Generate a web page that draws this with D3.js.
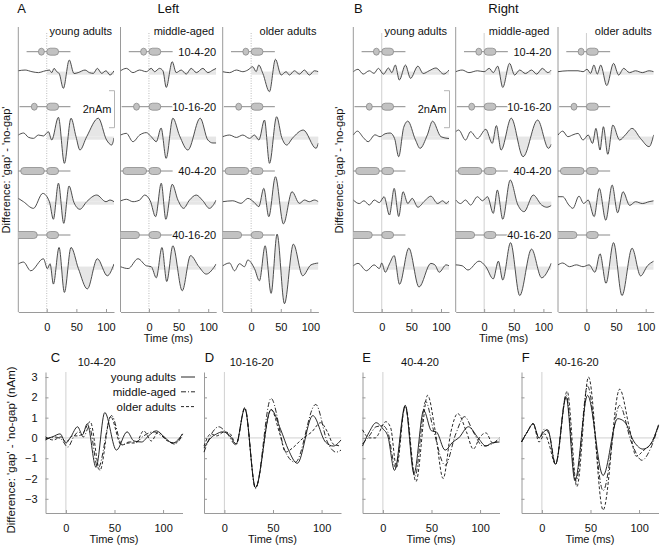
<!DOCTYPE html>
<html><head><meta charset="utf-8">
<script src="https://cdn.jsdelivr.net/npm/d3@7"></script>
<style>
body{margin:0;background:#fff}
svg text{font-family:"Liberation Sans",Arial,Helvetica,sans-serif;fill:#111}
</style>
</head><body>
<svg id="c" width="661" height="547"></svg>
<script>
// ---------- categories / labels ----------
const conditions = ["10-4-20","10-16-20","40-4-20","40-16-20"];
const groups = ["young adults","middle-aged","older adults"];
const leadDur = [10,10,40,40];
const gapDur = [4,16,4,16];
const trailDur = 20;
const topTicks = [0,50,100];
const bottomXTicks = [0,50,100];
const bottomYTicks = [-3,-2,-1,0,1,2,3];

// ---------- A: Left hemisphere, [time ms, difference nAm] per condition ----------
const leftYoung = [
 [[-48,0.05],[-36.5,0.09],[-25,0],[-14,-0.05],[-5.6,0.02],[4.5,0.09],[8.4,-0.05],[12.4,0.18],[16.9,0],[21,-0.1],[28,-0.9],[38,0.63],[46,-0.1],[53,-0.05],[64.6,0.09],[72,-0.05],[78.7,-0.09],[85.4,0.18],[92.7,-0.09],[100,0.05],[106.7,-0.18],[113.5,0.05]],
 [[-48,0.09],[-39,0.2],[-31,-0.03],[-22.5,-0.09],[-14,0.09],[-5.6,0.04],[2.8,0.27],[8.4,-0.18],[19.7,1.05],[29.8,-1.44],[41,1.0],[49.4,0],[56,-0.72],[67.4,0],[87,1.0],[101,-0.18],[109.6,-0.45],[113.5,-0.07]],
 [[-48,0.18],[-39.3,0],[-22.5,-0.36],[-6.7,0.45],[4.5,0],[11.2,-0.95],[19.7,1.0],[28.7,-1.17],[37.6,0.85],[46,-0.05],[56,-0.41],[67.4,0],[84.3,0.36],[100,0],[106.7,0.09],[113.5,0]],
 [[-48,0.15],[-39.3,0.25],[-27,-0.22],[-5.6,0.43],[1.1,-0.1],[5.6,0.16],[11.2,-0.94],[20.8,1.04],[29.8,-1.39],[41,1.04],[53.4,-0.1],[68.5,-1.2],[85.4,0.43],[102.2,-0.49],[113.5,0.15]]
];
const leftMiddle = [
 [[-48,0.05],[-38,0.18],[-27,-0.05],[-15.7,0.09],[-4.5,0],[3.9,0.18],[9.6,0],[17.9,0.18],[23.6,0.05],[29.2,-0.85],[39.3,0.54],[46,-0.05],[54.5,0.09],[62.9,-0.13],[71.3,0.18],[80,-0.05],[91,0.18],[99.4,-0.05],[108,0.09],[113.5,0.18]],
 [[-48,0.09],[-38,0.18],[-27,-0.27],[-15.7,0.09],[-4.5,0.22],[3.9,0],[12.4,-0.27],[20.5,0.47],[29,-1.17],[40.4,1.0],[51.7,0.05],[65.7,-0.72],[86.5,1.0],[99.4,-0.18],[108,-0.34],[113.5,-0.34]],
 [[-48,0.04],[-38,0.13],[-27,0],[-15.7,0.09],[-7.3,0.36],[2.2,0.05],[11.2,-0.81],[20.8,1.0],[28.5,-0.95],[39.3,0.94],[48.9,0.09],[58.4,-0.36],[68.5,0.09],[79.8,0.36],[91,0.05],[102,-0.36],[113.5,0.09]],
 [[-48,0],[-35,-0.1],[-18.5,0.43],[-4.5,0.05],[3.9,0],[12.4,-0.6],[22,1.04],[30,-0.8],[40.4,1.13],[56.2,-1.3],[70.2,0.6],[84.3,0],[96.6,-0.4],[113.5,0.15]]
];
const leftOlder = [
 [[-48,0],[-36.5,-0.05],[-25,0.09],[-14,0],[-5.6,0.09],[2.8,0.27],[8.4,0],[12.9,0.36],[19.7,-0.09],[30.9,-1.08],[41,0.67],[50.6,-0.18],[59,0],[64.6,-0.18],[73,0.05],[81.5,-0.13],[89.9,0.09],[98.3,-0.18],[106.7,0.05],[113.5,0]],
 [[-48,0],[-36.5,0.09],[-25,-0.04],[-14,0.09],[-2.8,-0.09],[5.6,0.09],[13,-0.18],[22.5,0.9],[31,-1.44],[43,1.08],[51.7,-0.05],[60,-0.45],[70,-0.07],[88,0.36],[109.5,-0.63],[113.5,-0.34]],
 [[-48,0],[-31,0.05],[-17,-0.09],[-5.6,0.18],[5.6,-0.05],[12.9,-0.27],[21.3,0.72],[29.8,-0.81],[41,1.35],[54.5,-1.2],[69,0.54],[81.5,-0.09],[90,0.09],[98.3,0],[106.7,0.09],[113.5,0]],
 [[-48,0.05],[-36.5,0.2],[-28,-0.22],[-19.7,0.16],[-11.2,0],[-5.6,0.36],[5.6,-0.1],[14,-0.76],[23.6,1.13],[33.7,-1.44],[43.8,1.76],[56.2,-2.0],[71.3,1.22],[87,-0.49],[101,0.1],[113.5,0.2]]
];

// ---------- B: Right hemisphere ----------
const rightYoung = [
 [[-48,0],[-40,0.13],[-31.4,-0.13],[-21,0.05],[-13,-0.09],[-5.7,0.18],[2.9,-0.13],[11.4,0.2],[17,-0.05],[22.9,0.36],[29.7,-0.45],[40,0.36],[48.6,-0.36],[61,0.3],[70,-0.1],[80,0.05],[91.4,0.2],[104.6,-0.13],[113.5,0.09]],
 [[-48,0.09],[-41,0.3],[-31,-0.05],[-23,-0.27],[-11.4,0.1],[-2.9,0],[5.7,0.16],[14.3,0.2],[21.7,-0.1],[28.6,-1.08],[37,0.5],[44,0.84],[57,-0.18],[64.6,-0.63],[77,0.1],[85.7,0.84],[100,0],[113.5,-0.1]],
 [[-48,0.09],[-38,-0.1],[-30,0.05],[-21,-0.18],[-12.6,0.09],[-4,-0.05],[4,0.27],[13,-0.72],[21,0.72],[28.6,-0.8],[36,0.54],[44,-0.1],[51.4,0.18],[61,-0.3],[72.6,0.05],[82.9,0.3],[94.3,-0.1],[102.9,0.05],[108.6,-0.1],[113.5,0.05]],
 [[-48,0.05],[-40,0.18],[-25.7,-0.22],[-13,0.1],[-4,-0.1],[0,0.2],[6,-0.3],[13,0.15],[21,0.6],[30,-0.95],[45.7,1.0],[62.9,-1.1],[82.9,0.18],[89.7,0.1],[97,-0.3],[108.6,0.1],[113.5,0.05]]
];
const rightMiddle = [
 [[-48,0],[-37,0.09],[-25.7,-0.05],[-11.4,0.05],[0,0],[8.6,0.18],[15.4,-0.05],[22.9,0.3],[31.4,-0.85],[42.9,0.45],[51.4,-0.18],[60,0.09],[69.7,-0.1],[80,0.09],[88.6,-0.13],[98.3,0.18],[107.4,-0.05],[113.5,0.09]],
 [[-48,0.27],[-43,0.36],[-31.4,-0.18],[-22.9,0.27],[-11.4,-0.1],[2.9,0.4],[13.7,-0.36],[20.6,0.6],[28.6,-0.72],[45.7,1.0],[65.7,-1.08],[90.3,0.9],[108.6,-0.63],[113.5,-0.4]],
 [[-48,0.09],[-40,-0.1],[-31.4,0.09],[-22.9,-0.18],[-11.4,0.27],[-2.9,0.05],[5.7,0.27],[15.4,-0.63],[22.3,0.63],[31.4,-0.95],[44,1.17],[57,-0.18],[67.4,-0.54],[82.9,0.36],[97,-0.18],[105.7,-0.3],[113.5,-0.2]],
 [[-48,0.1],[-37,0.05],[-27.4,-0.18],[-8.6,0.3],[2.9,0],[15.4,-0.66],[24,0.3],[31.4,-0.72],[44.6,1.3],[60,-1.56],[80,0.95],[97,-0.6],[113.5,0.2]]
];
const rightOlder = [
 [[-48,0],[-31.4,0.05],[-14.3,0.05],[-5.7,0],[1.1,0.13],[6.9,-0.09],[12.6,0.36],[18.3,-0.13],[24,0.36],[34.3,-0.75],[45.7,0.45],[54.3,-0.18],[62.9,0.18],[72.6,-0.05],[82.9,0.05],[94.3,-0.05],[105.7,0.05],[113.5,0]],
 [[-48,0.09],[-40,0.3],[-31.4,0],[-22.9,0.1],[-14.3,0.18],[-5.7,-0.18],[2.9,0.09],[10.3,-0.36],[16,0.45],[22.9,-0.72],[28.6,0.54],[36,-0.95],[44.6,0.63],[56,-0.18],[65.7,0.1],[77,0.45],[91.4,-0.1],[105.7,-0.54],[113.5,0.1]],
 [[-48,0.27],[-40,0.27],[-29.7,-0.18],[-22.9,-0.36],[-12.6,0.3],[-4.6,-0.1],[2.9,0.09],[13,-0.81],[21.7,0.72],[32.6,-1.0],[43.4,0.9],[52.6,-0.6],[61.7,0.54],[73,-0.2],[82.9,0],[94.3,-0.1],[105.7,0],[113.5,0.05]],
 [[-48,0.1],[-40,0.2],[-28.6,0],[-17,0.1],[-5.7,0],[4.6,0.1],[14.3,-0.3],[22.9,0.7],[33,-0.9],[45.7,1.3],[60,-1.56],[77,1.0],[91.4,-0.5],[103,0.05],[113.5,0.3]]
];

// ---------- C-F: group comparison per condition ----------
const cfYoung = [
 [[-21,-0.05],[-14,0.05],[-6,0.2],[0,-0.25],[5,0.05],[12,0.55],[17,0.15],[22,0.7],[31,-1.45],[40,1.25],[52,-0.6],[63,0.3],[70,-0.15],[78,-0.2],[85,0.1],[93,0.35],[100,0.1],[110,-0.25],[120,0.2]],
 [[-21,-0.5],[-14,0.0],[-8,0.2],[-2,0.3],[5,0.15],[12,-0.3],[21,1.45],[32,-2.45],[48,1.4],[58,0.4],[66,-0.6],[75,-1.25],[91,1.1],[104,-0.2],[112,-0.4],[120,-0.1]],
 [[-21,-0.4],[-14,0.3],[-7,0.75],[0,0.45],[5,0.1],[12,-1.6],[23,1.6],[32,-1.75],[42,1.35],[50,0.35],[55,0.3],[64,-0.6],[72,-0.2],[78,0.0],[88,0.55],[98,0.0],[106,-0.4],[112,-0.25],[120,-0.2]],
 [[-21,-0.2],[-15,0.3],[-9,0.7],[-3,0.0],[3,0.35],[6,0.4],[14,-1.3],[25,2.0],[34,-2.1],[47,2.1],[63,-1.85],[78,0.95],[85,0.8],[95,-0.2],[104,-0.55],[112,-0.3],[120,0.65]]
];
const cfMiddle = [
 [[-21,-0.1],[-12,0.05],[-5,-0.05],[2,-0.45],[8,0.05],[13,0.3],[18,0.05],[24,0.55],[33,-1.5],[47,1.1],[58,-0.35],[65,-0.2],[72,-0.2],[80,0.1],[90,0.3],[100,0.05],[112,-0.3],[120,0.15]],
 [[-21,-0.7],[-12,0.3],[-6,0.55],[3,0.2],[12,-0.35],[21,1.5],[32,-2.5],[48,1.95],[62,-0.6],[73,-1.2],[94,1.65],[106,-0.2],[115,-0.7],[120,-0.6]],
 [[-21,-0.3],[-14,0.1],[-7,0.55],[0,0.6],[5,0.3],[13,-1.45],[23,1.55],[33,-1.9],[44,1.8],[52,0.4],[64,-1.35],[75,0.2],[84,1.05],[93,0.3],[103,-0.4],[112,-0.3],[120,0.0]],
 [[-21,-0.2],[-15,0.3],[-9,0.7],[-3,0.0],[3,0.45],[8,0.1],[14,-1.3],[25,2.1],[35,-2.15],[47,2.55],[63,-2.6],[80,1.6],[92,-0.2],[103,-1.1],[112,-0.5],[120,0.6]]
];
const cfOlder = [
 [[-21,0.05],[-13,-0.1],[-5,0.05],[0,-0.2],[7,0.1],[12,0.1],[17,0.2],[25,0.8],[35,-1.6],[46,1.05],[57,-0.35],[65,-0.25],[72,-0.25],[80,0.35],[88,-0.15],[95,0.3],[103,-0.1],[112,-0.25],[120,0.2]],
 [[-21,-0.4],[-14,0.2],[-8,0.1],[0,0.3],[6,0.2],[12,-0.3],[21,1.45],[32,-2.45],[48,1.4],[57,0.2],[63,-0.7],[70,-0.5],[80,-0.05],[90,0.3],[99,0.75],[106,0.3],[112,-0.3],[120,-0.4]],
 [[-21,0.4],[-14,0.0],[-8,0.0],[3,0.8],[8,0.5],[14,-1.45],[23,1.6],[34,-2.15],[46,2.1],[54,0.3],[62,-2.0],[70,0.3],[77,1.2],[86,0.3],[93,-0.55],[100,0.05],[106,0.25],[113,-0.25],[120,-0.1]],
 [[-21,-0.2],[-15,0.3],[-9,0.7],[-3,-0.2],[3,0.2],[7,-0.25],[14,-1.3],[26,2.3],[36,-2.4],[48,3.0],[63,-3.55],[80,2.4],[90,0.5],[97,-0.9],[105,-0.6],[112,-0.3],[120,0.6]]
];
const cfLetters = ["C","D","E","F"];
const seriesDash = ["none","5,2,1,2","3,2"];

// ---------- layout ----------
const svg = d3.select("#c");
const defs = svg.append("defs");
const topDomain = [-48,113.5];
const panelW = 95.7;
const rowBase = [71.7,136.7,201.7,266.7];
const barOff = [-20,-30,-30.7,-31.7];
const ampPx = 18.5;
const topAxisY = 312;
const axisCol = "#9a9a9a";
const fillCol = "#e6e6e6";

function topGroup(key, lefts, data, dottedZero, letter, letterX, title, yLabelX){
  const g = svg.append("g");
  g.append("text").attr("x",letterX).attr("y",13).attr("text-anchor","middle").attr("font-size",13).text(letter);
  g.append("text").attr("x",lefts[1]+panelW/2).attr("y",13).attr("text-anchor","middle").attr("font-size",13).text(title);
  g.append("text").attr("transform",`translate(${yLabelX},170) rotate(-90)`).attr("text-anchor","middle")
    .attr("font-size",11).text("Difference: 'gap' - 'no-gap'");
  g.append("text").attr("x",lefts[1]+panelW/2).attr("y",342).attr("text-anchor","middle").attr("font-size",11).text("Time (ms)");

  lefts.forEach((left,p)=>{
    const right = left+panelW;
    const x = d3.scaleLinear().domain(topDomain).range([left,right]);
    const cid = `cl${key}${p}`, fid = `fl${key}${p}`;
    defs.append("clipPath").attr("id",cid).append("rect").attr("x",left).attr("y",0).attr("width",panelW).attr("height",547);
    defs.append("clipPath").attr("id",fid).append("rect").attr("x",x(0)).attr("y",0).attr("width",right-x(0)).attr("height",547);

    g.append("line").attr("x1",x(0)).attr("x2",x(0)).attr("y1",33).attr("y2",topAxisY)
      .attr("stroke",dottedZero?"#aaa":"#cfcfcf").attr("stroke-width",dottedZero?0.8:1)
      .attr("stroke-dasharray",dottedZero?"1,1.5":null);
    g.append("line").attr("x1",left).attr("x2",left).attr("y1",27).attr("y2",topAxisY).attr("stroke",axisCol);
    const ax = g.append("g").attr("transform",`translate(0,${topAxisY})`)
      .call(d3.axisBottom(x).tickValues(topTicks).tickSize(-3).tickPadding(11).tickSizeOuter(0));
    ax.select(".domain").attr("stroke",axisCol);
    ax.selectAll(".tick line").attr("stroke",axisCol);
    ax.selectAll("text").attr("font-size",11).attr("font-family",null).attr("fill","#111");
    g.append("text").attr("x",right-2).attr("y",35).attr("text-anchor","end").attr("font-size",11).text(groups[p]);

    data[p].forEach((pts,r)=>{
      const base = rowBase[r];
      const y = d3.scaleLinear().domain([-1,1]).range([base+ampPx,base-ampPx]);
      g.append("path").datum(pts).attr("clip-path",`url(#${fid})`)
        .attr("d",d3.area().x(d=>x(d[0])).y0(y(0)).y1(d=>y(d[1])).curve(d3.curveMonotoneX))
        .attr("fill",fillCol);
      g.append("rect").attr("clip-path",`url(#${fid})`).attr("x",x(0)).attr("y",y(0)).attr("width",right-x(0)).attr("height",3).attr("fill",fillCol);
      g.append("path").datum(pts).attr("clip-path",`url(#${cid})`)
        .attr("d",d3.line().x(d=>x(d[0])).y(d=>y(d[1])).curve(d3.curveMonotoneX))
        .attr("fill","none").attr("stroke","#3a3a3a").attr("stroke-width",0.9);
      const sy = base+barOff[r];
      const sg = g.append("g").attr("clip-path",`url(#${cid})`);
      const t0 = -(gapDur[r]+leadDur[r]);
      sg.append("line").attr("x1",x(t0-20)).attr("x2",x(trailDur+20)).attr("y1",sy).attr("y2",sy).attr("stroke","#8a8a8a").attr("stroke-width",1);
      [[t0,-gapDur[r]],[0,trailDur]].forEach(s=>{
        sg.append("rect").attr("x",x(s[0])).attr("y",sy-3.5).attr("width",x(s[1])-x(s[0])).attr("height",7).attr("rx",3.5)
          .attr("fill","#c2c2c2").attr("stroke","#8a8a8a").attr("stroke-width",0.8);
      });
      if(p===1){
        g.append("text").attr("x",right).attr("y",sy+4).attr("text-anchor","end").attr("font-size",11)
          .attr("paint-order","stroke").attr("stroke","#fff").attr("stroke-width",2).text(conditions[r]);
      }
    });
    if(p===0){
      const yb = d3.scaleLinear().domain([-1,1]).range([109.2+ampPx,109.2-ampPx]);
      g.append("path").attr("d",`M${right-5},${yb(1)}H${right+0.5}V${yb(-1)}H${right-5}`).attr("fill","none").attr("stroke","#b5b5b5");
      g.append("text").attr("x",right-2.5).attr("y",yb(0)+4).attr("text-anchor","end").attr("font-size",11).text("2nAm");
    }
  });
}

topGroup("A",[18.3,120.5,222.7],[leftYoung,leftMiddle,leftOlder],true,"A",21.7,"Left",10);
topGroup("B",[353.3,455.7,558],[rightYoung,rightMiddle,rightOlder],false,"B",358.3,"Right",343.3);

// ---------- bottom panels ----------
const bLefts = [45.5,204,362.5,521.5];
const bW = 137;
const bTop = 372, bBot = 513;
const letterX = [55.5,209.5,366.7,525.7];
const titleX = [96.7,251.7,420,576.7];
const bg = svg.append("g");
bg.append("text").attr("transform","translate(15,450) rotate(-90)").attr("text-anchor","middle").attr("font-size",11.5)
  .text("Difference: 'gap' - 'no-gap' (nAm)");
bLefts.forEach((left,i)=>{
  const x = d3.scaleLinear().domain([-21,120]).range([left,left+bW]);
  const y = d3.scaleLinear().domain([-3.7,3.25]).range([bBot,bTop]);
  bg.append("line").attr("x1",left).attr("x2",left+bW).attr("y1",y(0)).attr("y2",y(0)).attr("stroke","#d0d0d0");
  bg.append("line").attr("x1",x(0)).attr("x2",x(0)).attr("y1",bTop).attr("y2",bBot).attr("stroke","#d0d0d0");
  const ay = bg.append("g").attr("transform",`translate(${left},0)`)
    .call(d3.axisLeft(y).tickValues(bottomYTicks).tickFormat(d3.format("d")).tickSize(-3).tickPadding(8).tickSizeOuter(0));
  ay.select(".domain").attr("stroke",axisCol);
  ay.selectAll(".tick line").attr("stroke",axisCol);
  ay.selectAll("text").attr("font-size",11).attr("font-family",null).attr("fill","#111").style("display",i===0?null:"none");
  const axb = bg.append("g").attr("transform",`translate(0,${bBot})`)
    .call(d3.axisBottom(x).tickValues(bottomXTicks).tickSize(-3).tickPadding(11).tickSizeOuter(0));
  axb.select(".domain").attr("stroke",axisCol);
  axb.selectAll(".tick line").attr("stroke",axisCol);
  axb.selectAll("text").attr("font-size",11).attr("font-family",null).attr("fill","#111");
  bg.append("text").attr("x",left+bW/2).attr("y",543).attr("text-anchor","middle").attr("font-size",11).text("Time (ms)");
  bg.append("text").attr("x",letterX[i]).attr("y",362).attr("text-anchor","middle").attr("font-size",13).text(cfLetters[i]);
  bg.append("text").attr("x",titleX[i]).attr("y",366).attr("text-anchor","middle").attr("font-size",11).text(conditions[i]);
  [cfYoung,cfMiddle,cfOlder].forEach((s,k)=>{
    bg.append("path").datum(s[i])
      .attr("d",d3.line().x(d=>x(d[0])).y(d=>y(d[1])).curve(d3.curveMonotoneX))
      .attr("fill","none").attr("stroke","#111").attr("stroke-width",0.9)
      .attr("stroke-dasharray",seriesDash[k]==="none"?null:seriesDash[k]);
  });
});
groups.forEach((gname,k)=>{
  const ly = 377+k*14.8;
  bg.append("text").attr("x",176).attr("y",ly+4).attr("text-anchor","end").attr("font-size",11.5).text(gname);
  bg.append("line").attr("x1",181).attr("x2",195).attr("y1",ly).attr("y2",ly).attr("stroke","#111").attr("stroke-width",0.9)
    .attr("stroke-dasharray",seriesDash[k]==="none"?null:seriesDash[k]);
});
</script>
</body></html>
